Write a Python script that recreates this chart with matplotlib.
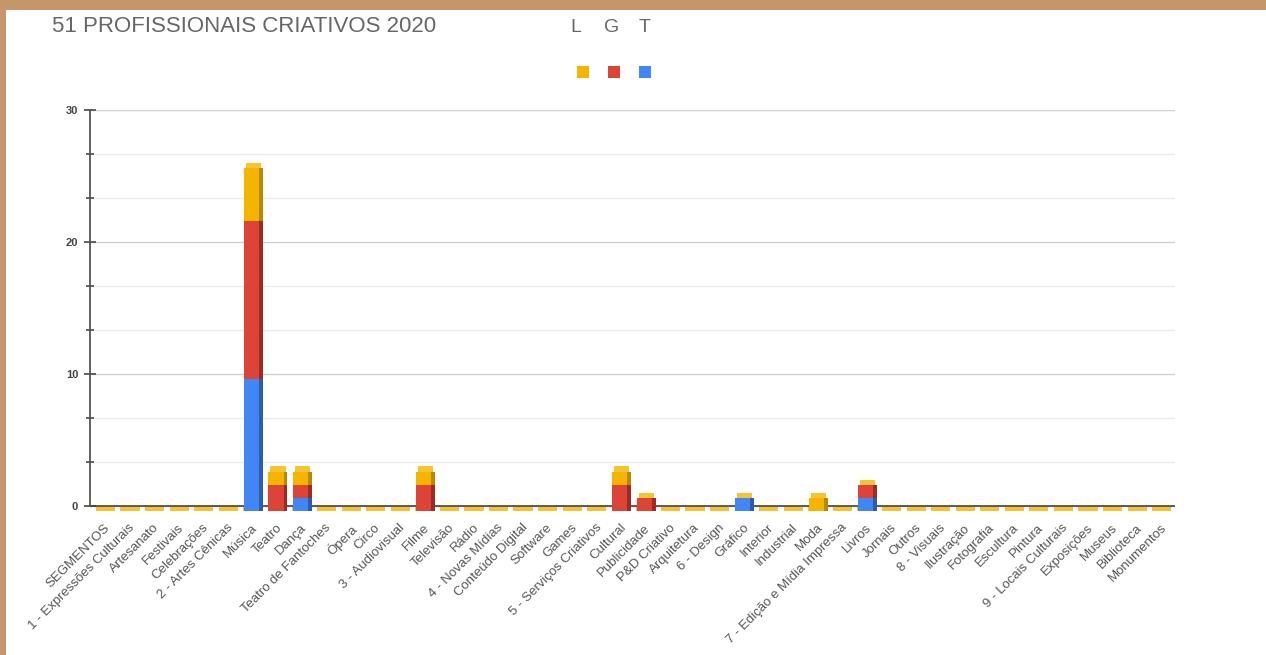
import matplotlib.pyplot as plt
from matplotlib.patches import Rectangle
import numpy as np

plt.rcParams['font.family'] = ['Liberation Sans', 'DejaVu Sans']

categories = [
    'SEGMENTOS', '1 - Expressões Culturais', 'Artesanato', 'Festivais', 'Celebrações',
    '2 - Artes Cênicas', 'Música', 'Teatro', 'Dança', 'Teatro de Fantoches', 'Ópera',
    'Circo', '3 - Audiovisual', 'Filme', 'Televisão', 'Rádio', '4 - Novas Mídias',
    'Conteúdo Digital', 'Software', 'Games', '5 - Serviços Criativos', 'Cultural',
    'Publicidade', 'P&D Criativo', 'Arquitetura', '6 - Design', 'Gráfico', 'Interior',
    'Industrial', 'Moda', '7 - Edição e Mídia Impressa', 'Livros', 'Jornais', 'Outros',
    '8 - Visuais', 'Ilustração', 'Fotografia', 'Escultura', 'Pintura',
    '9 - Locais Culturais', 'Exposições', 'Museus', 'Biblioteca', 'Monumentos',
]
# stacked from bottom: T (blue), G (red), L (yellow)
t_vals = [0, 0, 0, 0, 0, 0, 10, 0, 1, 0, 0, 0, 0, 0, 0, 0, 0, 0, 0, 0, 0, 0,
          0, 0, 0, 0, 1, 0, 0, 0, 0, 1, 0, 0, 0, 0, 0, 0, 0, 0, 0, 0, 0, 0]
g_vals = [0, 0, 0, 0, 0, 0, 12, 2, 1, 0, 0, 0, 0, 2, 0, 0, 0, 0, 0, 0, 0, 2,
          1, 0, 0, 0, 0, 0, 0, 0, 0, 1, 0, 0, 0, 0, 0, 0, 0, 0, 0, 0, 0, 0]
l_vals = [0, 0, 0, 0, 0, 0, 4, 1, 1, 0, 0, 0, 0, 1, 0, 0, 0, 0, 0, 0, 0, 1,
          0, 0, 0, 0, 0, 0, 0, 1, 0, 0, 0, 0, 0, 0, 0, 0, 0, 0, 0, 0, 0, 0]

series = [('T', t_vals, '#4285F4', '#2a5db0'),
          ('G', g_vals, '#DB4437', '#9e2a20'),
          ('L', l_vals, '#F4B400', '#b98700')]

fig = plt.figure(figsize=(12.66, 6.55), dpi=100)
fig.patch.set_facecolor('#C4966A')
fig.patches.append(Rectangle((6 / 1266, 0), 1, 1 - 10 / 655, transform=fig.transFigure,
                             facecolor='white', edgecolor='none', zorder=-1))

ax = fig.add_axes([90 / 1266, (655 - 512) / 655, (1175 - 90) / 1266, (512 - 110) / 655])
ax.set_facecolor('none')

x = np.arange(len(categories))
w = 0.62
side = 0.16
depth = 0.4  # 3D look: front faces sit a little below the baseline

# 3D floor of the yellow series (visible under every category)
ax.bar(x + 0.06, -depth, width=w + side, bottom=0, color='#F4C233', zorder=1)

bottom = np.zeros(len(categories)) - depth
for name, vals, col, dark in series:
    vals = np.array(vals, dtype=float)
    ax.bar(x, vals, width=w, bottom=bottom, color=col, zorder=3)
    ax.bar(x + w / 2 + side / 2, vals, width=side, bottom=bottom, color=dark, zorder=3)
    bottom += vals
# top face of stacks
mask = bottom > 0
ax.bar(x[mask] + side / 2, depth, width=w, bottom=bottom[mask], color='#F6C431', zorder=4)

ax.set_xlim(-0.57, 43.6)
ax.set_ylim(-0.45, 30)
ax.set_yticks([0, 10, 20, 30])
ax.set_yticks([10 / 3, 20 / 3, 40 / 3, 50 / 3, 70 / 3, 80 / 3], minor=True)
ax.yaxis.grid(True, which='major', color='#d0d0d0', linewidth=1, zorder=0)
ax.yaxis.grid(True, which='minor', color='#ebebeb', linewidth=1, zorder=0)
ax.axhline(0, color='#444444', linewidth=1.2, zorder=2)
ax.set_axisbelow(True)

for s in ['top', 'right', 'bottom']:
    ax.spines[s].set_visible(False)
ax.spines['left'].set_color('#555555')
ax.spines['left'].set_linewidth(1.3)
ax.spines['left'].set_bounds(0, 30)

ax.tick_params(axis='y', which='major', direction='inout', length=9, width=1.3,
               color='#555555', labelsize=8, labelcolor='#444444', pad=4)
ax.tick_params(axis='y', which='minor', direction='inout', length=6, width=1.3, color='#555555')
for lab in ax.get_yticklabels():
    lab.set_fontweight('bold')

ax.set_xticks(x)
ax.set_xticklabels(categories, rotation=45, ha='right', rotation_mode='anchor',
                   fontsize=9.5, color='#555555')
ax.tick_params(axis='x', length=0, pad=7)

fig.text(52 / 1266, 1 - 27 / 655, '51 PROFISSIONAIS CRIATIVOS 2020', fontsize=16,
         color='#666666', va='center', ha='left')
for lx, sx, name, col in [(576, 583, 'L', '#F4B400'), (612, 614, 'G', '#DB4437'),
                          (645, 645, 'T', '#4285F4')]:
    fig.text(lx / 1266, 1 - 27 / 655, name, fontsize=14, color='#666666',
             va='center', ha='center')
    fig.patches.append(Rectangle(((sx - 6) / 1266, 1 - 78 / 655), 12 / 1266, 12 / 655,
                                 transform=fig.transFigure, facecolor=col, edgecolor='none'))

plt.savefig('out.png', dpi=100, facecolor=fig.get_facecolor())
